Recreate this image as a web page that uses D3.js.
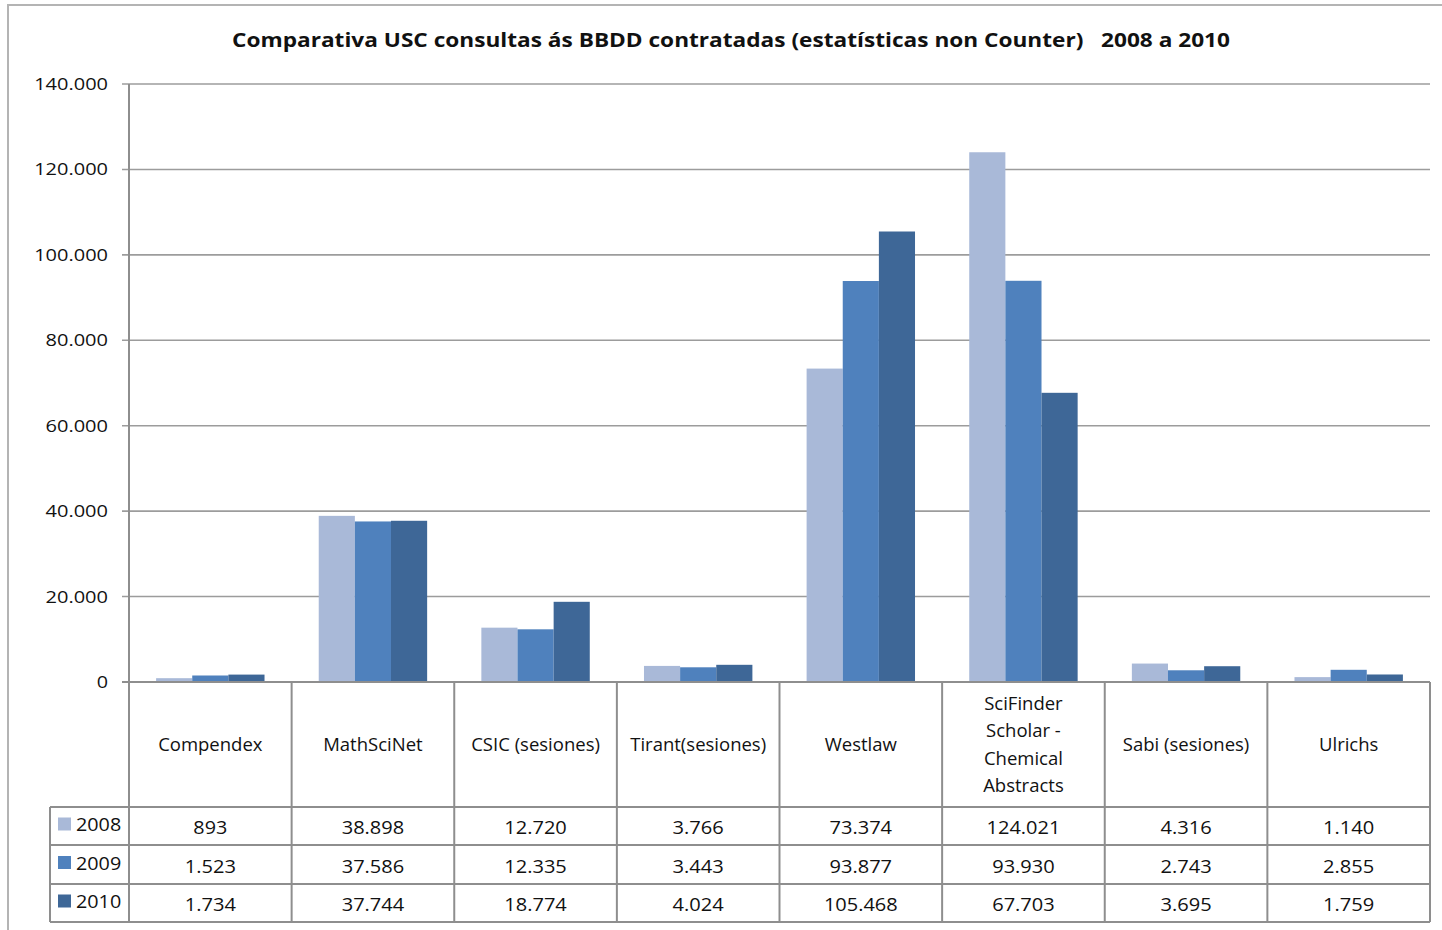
<!DOCTYPE html>
<html><head><meta charset="utf-8">
<script src="https://cdn.jsdelivr.net/npm/d3@7"></script>
<style>html,body{margin:0;padding:0;background:#fff;overflow:hidden}</style>
</head><body>
<svg id="c" width="1442" height="930"></svg>
<script>
const title = "Comparativa USC consultas ás BBDD contratadas (estatísticas non Counter)   2008 a 2010";
const categories = ["Compendex","MathSciNet","CSIC (sesiones)","Tirant(sesiones)","Westlaw","SciFinder Scholar - Chemical Abstracts","Sabi (sesiones)","Ulrichs"];
const categoryLines = [["Compendex"],["MathSciNet"],["CSIC (sesiones)"],["Tirant(sesiones)"],["Westlaw"],["SciFinder","Scholar -","Chemical","Abstracts"],["Sabi (sesiones)"],["Ulrichs"]];
const years = ["2008","2009","2010"];
const v2008 = [893,38898,12720,3766,73374,124021,4316,1140];
const v2009 = [1523,37586,12335,3443,93877,93930,2743,2855];
const v2010 = [1734,37744,18774,4024,105468,67703,3695,1759];
const yTicks = [0,20000,40000,60000,80000,100000,120000,140000];
const colors = ["#A9B9D8","#4F81BD","#3E6797"];

const series = [v2008, v2009, v2010];
const svg = d3.select("#c");
const FONT = "'Open Sans', 'Noto Sans', sans-serif";
const loc = d3.formatLocale({decimal:",", thousands:".", grouping:[3], currency:["",""]});
const fmt = loc.format(",d");
// approximate rendered width of a numeric label in the reference
const numW = s => s.replace(/[^0-9]/g, "").length * 11.3 + (s.split(".").length - 1) * 6;

const L = 129, R = 1430, T = 84, B = 682;
const rowH = [807, 845, 884, 922];
const x = d3.scaleBand().domain(categories).range([L, R]).padding(0);
const xi = d3.scaleBand().domain(years).range([0, x.bandwidth()]).paddingInner(0).paddingOuter(0.75);
const y = d3.scaleLinear().domain([0, 140000]).range([B, T]);

// outer frame
svg.append("rect").attr("x", 8).attr("y", 5).attr("width", 1460).attr("height", 960)
  .attr("fill", "none").attr("stroke", "#b4b4b4").attr("stroke-width", 2);

// title
svg.append("text").attr("x", 731).attr("y", 47).attr("text-anchor", "middle")
  .attr("font-family", FONT).attr("font-weight", "bold").attr("font-size", 20)
  .attr("fill", "#111").attr("textLength", 998).attr("lengthAdjust", "spacingAndGlyphs")
  .style("white-space", "pre").text(title);

// gridlines
const gridC = "#9c9c9c";
svg.append("g").selectAll("line").data(yTicks).join("line")
  .attr("x1", L - 7).attr("x2", R).attr("y1", d => y(d)).attr("y2", d => y(d))
  .attr("stroke", gridC).attr("stroke-width", 1.6);

// y tick labels
svg.append("g").selectAll("text").data(yTicks).join("text")
  .attr("x", 108).attr("y", d => y(d) + 6).attr("text-anchor", "end")
  .attr("font-family", FONT).attr("font-size", 17).attr("fill", "#111")
  .attr("textLength", d => numW(fmt(d)))
  .attr("lengthAdjust", "spacingAndGlyphs")
  .text(d => fmt(d));

// bars
const g = svg.append("g");
series.forEach((vals, si) => {
  g.append("g").selectAll("rect").data(categories).join("rect")
    .attr("x", (c) => x(c) + xi(years[si]))
    .attr("width", xi.bandwidth())
    .attr("y", (c, i) => y(vals[i]))
    .attr("height", (c, i) => B - y(vals[i]))
    .attr("fill", colors[si]);
});

// table lines
const tc = "#8e8e8e";
const tl = svg.append("g").attr("stroke", tc).attr("stroke-width", 2);
tl.append("line").attr("x1", L).attr("x2", L).attr("y1", T).attr("y2", rowH[3]);
categories.forEach(c => {
  const xe = x(c) + x.bandwidth();
  tl.append("line").attr("x1", xe).attr("x2", xe).attr("y1", B).attr("y2", rowH[3]);
});
tl.append("line").attr("x1", L - 7).attr("x2", R).attr("y1", B).attr("y2", B);
rowH.forEach(h => tl.append("line").attr("x1", 50).attr("x2", R).attr("y1", h).attr("y2", h));
tl.append("line").attr("x1", 50).attr("x2", 50).attr("y1", rowH[0]).attr("y2", rowH[3]);

// category labels
categories.forEach((c, i) => {
  const lines = categoryLines[i];
  const cx = x(c) + x.bandwidth() / 2;
  const lh = 27.5, cy = 745;
  lines.forEach((ln, j) => {
    svg.append("text").attr("x", cx).attr("y", cy + (j - (lines.length - 1) / 2) * lh + 6)
      .attr("text-anchor", "middle").attr("font-family", FONT).attr("font-size", 18.5)
      .attr("fill", "#111").text(ln);
  });
});

// table values + legend
years.forEach((yr, si) => {
  const top = rowH[si], bot = rowH[si + 1];
  const cy = (top + bot) / 2;
  svg.append("rect").attr("x", 58).attr("y", cy - 8.5).attr("width", 13).attr("height", 13).attr("fill", colors[si]);
  svg.append("text").attr("x", 76).attr("y", cy + 5).attr("font-family", FONT).attr("font-size", 18)
    .attr("fill", "#111").attr("textLength", numW(yr)).attr("lengthAdjust", "spacingAndGlyphs").text(yr);
  categories.forEach((c, i) => {
    const s = fmt(series[si][i]);
    svg.append("text").attr("x", x(c) + x.bandwidth() / 2).attr("y", cy + 8)
      .attr("text-anchor", "middle").attr("font-family", FONT).attr("font-size", 18)
      .attr("fill", "#111").attr("textLength", numW(s)).attr("lengthAdjust", "spacingAndGlyphs").text(s);
  });
});
</script>
</body></html>
